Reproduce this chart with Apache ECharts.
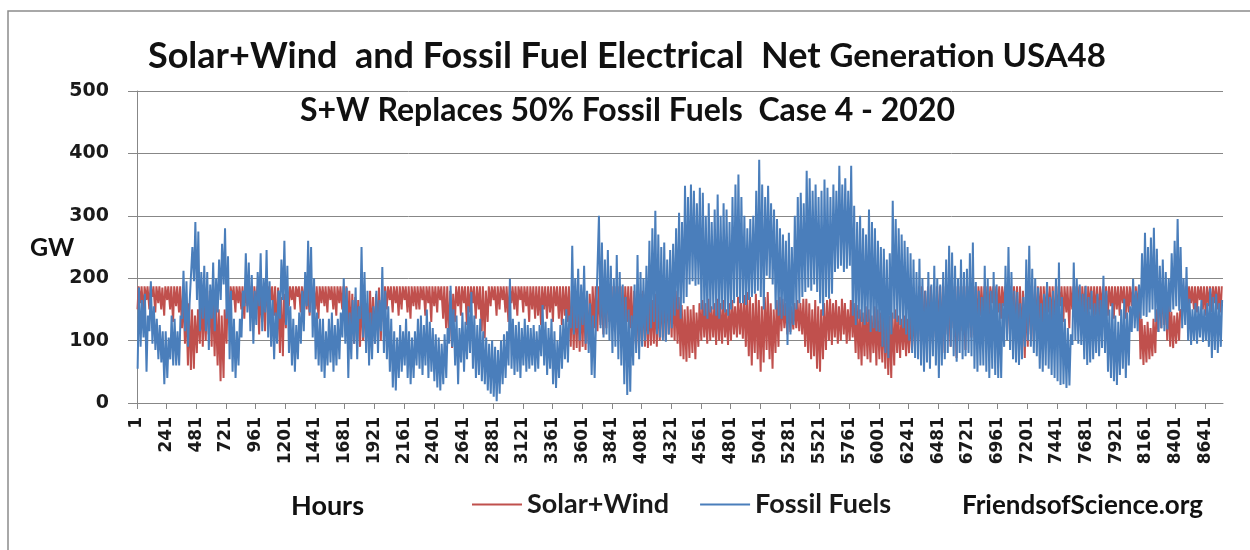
<!DOCTYPE html>
<html><head><meta charset="utf-8">
<script src="https://cdn.jsdelivr.net/npm/echarts@6/dist/echarts.min.js"></script>
<style>html,body{margin:0;padding:0;background:#fff}#c{width:1250px;height:550px}</style>
</head><body><div id="c"></div>
<script>
// Daily high / low of each series (GW), day 0 .. 365 of 2020
const fossilHigh=[185,165,175,140,195,155,135,125,115,115,
105,140,135,115,140,212,195,155,250,290,
275,210,220,210,190,225,200,230,255,280,
235,180,135,115,135,180,240,225,205,180,
210,240,200,245,195,165,145,180,230,260,
220,155,135,125,145,180,210,260,250,200,
145,135,135,115,135,145,125,135,145,200,
185,145,165,185,155,250,210,180,145,155,
180,165,218,180,155,135,115,105,125,115,
135,115,105,115,135,140,125,150,130,120,
110,105,95,110,120,188,150,140,120,145,
130,155,178,140,125,135,115,105,95,100,
90,85,100,110,115,199,135,125,130,120,
135,125,120,125,115,125,157,130,120,135,
115,100,125,135,150,140,252,200,215,190,
220,180,160,140,130,300,257,230,245,220,
200,237,210,190,170,150,140,190,237,210,
200,220,260,280,308,270,250,257,230,245,
255,280,305,290,348,330,350,340,320,345,
337,300,320,290,310,334,300,320,310,290,
330,350,366,330,300,280,295,300,340,390,
350,330,348,320,310,295,280,270,260,273,
250,300,330,337,320,372,360,340,350,330,
340,358,345,330,350,340,380,350,360,340,
380,316,290,300,280,270,310,290,280,260,
250,247,230,240,324,295,280,270,260,250,
240,230,210,231,200,180,210,190,220,200,
190,210,230,252,241,220,200,230,210,215,
240,257,194,180,170,220,200,180,210,190,
160,160,220,250,210,180,178,160,170,230,
252,215,200,185,160,175,194,170,180,200,
225,170,135,120,110,225,200,190,175,188,
170,180,160,175,165,204,180,150,160,140,
130,150,167,145,155,199,180,190,240,273,
250,265,281,247,220,230,210,200,240,260,
295,250,200,218,167,150,160,155,165,150,
160,184,170,175,160,165];
const fossilLow=[55,90,105,50,115,95,85,70,65,30,
40,70,60,60,60,135,115,90,155,195,
165,115,135,115,85,135,115,145,165,190,
135,70,50,40,60,105,155,145,115,95,
125,155,115,145,105,90,70,95,135,165,
125,80,60,50,70,95,115,155,145,105,
70,60,50,40,60,65,50,60,70,105,
95,40,70,95,70,135,105,80,60,70,
95,80,115,80,70,50,25,20,40,50,
60,40,30,40,60,55,45,60,40,50,
35,25,20,30,40,95,90,60,30,65,
50,70,80,55,40,45,35,30,20,15,
10,3,15,30,40,60,55,45,50,40,
60,50,55,60,50,55,75,60,45,55,
30,24,40,55,70,65,120,110,120,100,
125,95,80,45,40,130,120,105,110,100,
80,90,70,60,30,13,18,60,80,70,
90,100,110,120,130,110,105,100,98,110,
120,140,150,135,160,170,190,195,188,190,
150,140,135,145,150,140,135,150,145,140,
150,160,170,160,160,157,165,170,175,180,
170,150,204,200,190,150,140,135,140,93,
110,125,150,160,170,178,185,180,190,178,
160,140,170,167,175,210,215,220,210,215,
220,140,125,135,130,125,130,114,120,115,
114,90,80,72,110,135,130,125,120,110,
100,80,72,70,60,50,65,55,75,60,
40,60,70,80,90,75,66,80,70,75,
80,75,55,50,60,60,50,40,55,45,
40,40,90,100,85,70,65,61,70,90,
100,90,80,75,55,50,60,55,45,40,
35,29,30,24,28,93,100,95,93,70,
61,65,70,80,75,88,80,50,40,35,
29,45,55,40,60,114,120,115,135,140,
138,145,150,130,114,120,115,118,146,150,
155,148,120,125,100,93,100,95,105,98,
100,90,72,85,80,90];
const swHigh=[187,187,187,187,187,187,187,187,185,187,
187,187,187,187,187,180,170,160,150,140,
150,175,160,170,180,175,160,150,140,150,
170,187,187,187,187,187,187,187,187,187,
187,180,187,187,187,187,187,185,170,175,
187,187,187,187,187,187,187,187,187,187,
187,187,187,187,187,187,187,187,187,187,
187,180,175,170,165,175,170,160,180,170,
175,185,170,187,187,187,187,187,187,187,
187,187,187,187,187,187,187,187,187,187,
187,187,187,187,187,180,175,187,187,187,
187,187,187,187,187,187,187,180,187,187,
187,187,187,187,187,187,187,187,187,187,
187,187,187,187,187,187,187,187,187,187,
187,187,187,187,187,187,180,170,175,165,
170,160,175,187,187,187,187,187,187,187,
187,187,187,187,187,187,187,180,175,170,
180,175,170,165,175,170,180,187,187,187,
187,180,170,157,150,155,150,157,145,160,
165,160,167,155,160,167,160,165,150,160,
165,155,170,160,173,178,170,160,175,165,
155,170,178,160,150,165,170,167,160,165,
155,160,165,160,167,167,160,150,165,155,
150,160,165,167,160,165,155,167,160,150,
165,160,157,150,145,155,150,140,155,150,
145,157,150,140,145,150,140,135,140,135,
145,150,160,187,187,180,187,187,175,187,
187,187,187,187,187,187,187,187,187,187,
187,187,187,187,187,187,187,187,187,187,
187,187,187,187,187,187,187,187,180,175,
187,187,187,187,187,187,187,187,187,187,
187,187,187,187,187,187,187,187,187,187,
187,187,187,187,187,187,187,187,187,187,
187,187,187,187,187,187,187,187,135,125,
130,120,135,150,187,187,187,175,146,140,
145,150,187,187,187,187,187,187,187,187,
187,187,187,187,187,187];
const swLow=[150,160,140,165,150,170,145,160,150,140,
165,150,130,155,145,120,95,60,53,55,
80,95,90,100,110,90,75,60,35,40,
95,150,165,145,160,150,135,155,140,120,
150,110,130,115,150,165,140,100,80,75,
120,155,165,150,170,145,160,150,140,160,
150,135,160,155,145,165,150,140,160,150,
130,110,100,95,100,90,100,95,110,100,
95,120,100,130,150,165,145,160,140,150,
165,145,135,155,150,150,165,140,160,130,
155,145,165,135,120,100,88,130,155,140,
160,125,145,160,135,150,115,104,130,155,
165,140,150,165,145,130,160,150,140,165,
145,155,130,150,135,140,125,150,135,145,
130,155,135,125,140,130,90,85,88,82,
90,85,95,110,120,115,125,110,120,130,
115,125,120,110,125,130,120,95,90,85,
95,90,88,92,95,90,100,105,100,110,
105,100,95,75,70,66,72,80,70,90,
100,105,95,100,105,93,100,95,105,93,
100,110,105,110,103,90,75,60,80,70,
50,65,85,70,55,80,90,115,120,110,
114,118,120,115,110,90,80,70,75,55,
50,70,85,100,93,105,95,100,110,95,
100,105,80,70,60,75,70,65,80,60,
70,65,55,45,40,60,80,72,85,75,
80,85,90,100,95,93,110,100,95,105,
110,95,80,110,90,120,72,100,115,85,
120,105,130,125,140,135,150,135,160,140,
145,135,155,120,110,130,100,95,85,72,
90,110,100,120,135,115,130,145,120,114,
140,155,130,145,120,150,135,160,125,145,
114,150,130,140,125,150,135,140,155,135,
150,140,160,135,145,155,140,150,70,61,
65,70,75,80,114,120,125,100,90,88,
95,100,140,150,146,160,150,145,165,150,
140,155,146,160,150,145];
const xTickLabels=[1,241,481,721,961,1201,1441,1681,1921,2161,2401,2641,2881,3121,3361,3601,3841,4081,4321,4561,4801,5041,5281,5521,5761,6001,6241,6481,6721,6961,7201,7441,7681,7921,8161,8401,8641];
const yTicks=[0,100,200,300,400,500];
const seriesNames=['Solar+Wind','Fossil Fuels'];

// each day contributes a night value and a day value (hour of year, 1-based)
const swData=[], ffData=[];
for(let d=0; d<fossilHigh.length; d++){
  swData.push([d*24+5, swLow[d]], [d*24+14, swHigh[d]]);
  ffData.push([d*24+6, fossilLow[d]], [d*24+17, fossilHigh[d]]);
}

const chart=echarts.init(document.getElementById('c'),null,{renderer:'canvas'});
const axisGray='#878787';
chart.setOption({
  animation:false,
  backgroundColor:'#ffffff',
  grid:{left:137,right:27,top:91,bottom:147},
  xAxis:{type:'value',min:1,max:8784,
    axisLine:{show:true,lineStyle:{color:axisGray,width:1}},
    axisTick:{show:true,length:6,customValues:xTickLabels,lineStyle:{color:axisGray}},
    axisLabel:{rotate:90,margin:14,customValues:xTickLabels,color:'#1a1a1a',fontFamily:'DejaVu Sans',fontWeight:'bold',fontSize:17,formatter:v=>String(v)},
    splitLine:{show:false}},
  yAxis:{type:'value',min:yTicks[0],max:yTicks[yTicks.length-1],interval:100,
    axisLine:{show:true,lineStyle:{color:axisGray,width:1}},
    axisTick:{show:true,length:9,lineStyle:{color:axisGray}},
    axisLabel:{margin:28,color:'#1a1a1a',fontFamily:'DejaVu Sans',fontWeight:'bold',fontSize:19},
    splitLine:{show:true,lineStyle:{color:axisGray,width:1}}},
  legend:{left:467,top:486,icon:'rect',itemWidth:50,itemHeight:2,itemGap:31,
    data:seriesNames,
    textStyle:{fontFamily:'Lato',fontWeight:'bold',fontSize:27,color:'#1a1a1a'}},
  series:[
    {name:seriesNames[0],type:'line',data:swData,symbol:'none',showSymbol:false,sampling:null,
      lineStyle:{color:'#c0504d',width:2},itemStyle:{color:'#c0504d'},z:2},
    {name:seriesNames[1],type:'line',data:ffData,symbol:'none',showSymbol:false,sampling:null,
      lineStyle:{color:'#4a7ebb',width:2},itemStyle:{color:'#4a7ebb'},z:3}
  ],
  graphic:[
    {type:'rect',shape:{x:8,y:11,width:1300,height:600},style:{fill:null,stroke:'#8c8c8c',lineWidth:1.5},z:-1,silent:true},
    {type:'text',x:148,y:56,style:{text:'{a|Solar+Wind  and Fossil Fuel Electrical  Net }{b|Generation USA48}',
      verticalAlign:'middle',rich:{a:{fontFamily:'Lato',fontWeight:'bold',fontSize:36,fill:'#111'},b:{fontFamily:'Lato',fontWeight:'bold',fontSize:33,fill:'#111'}}}},
    {type:'text',x:300,y:111,style:{text:'S+W Replaces 50% Fossil Fuels  Case 4 - 2020',verticalAlign:'middle',
      fontFamily:'Lato',fontWeight:'bold',fontSize:32,fill:'#111'}},
    {type:'text',x:30,y:248,style:{text:'GW',verticalAlign:'middle',fontFamily:'Lato',fontWeight:'bold',fontSize:25,fill:'#111'}},
    {type:'text',x:291,y:506,style:{text:'Hours',verticalAlign:'middle',fontFamily:'Lato',fontWeight:'bold',fontSize:27,fill:'#111'}},
    {type:'text',x:962,y:506,style:{text:'FriendsofScience.org',verticalAlign:'middle',fontFamily:'Lato',fontWeight:'bold',fontSize:26,fill:'#111'}}
  ]
});
</script>
</body></html>
